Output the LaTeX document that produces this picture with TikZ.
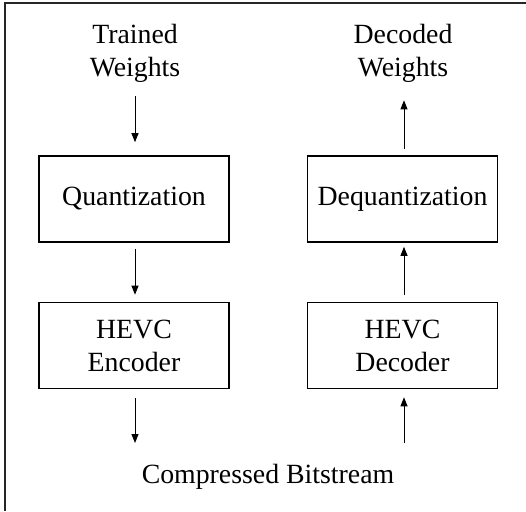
\documentclass[tikz,border=0pt]{standalone}
\usepackage{fontspec}
\setmainfont{Liberation Serif}
\usetikzlibrary{arrows.meta}
\begin{document}
\begin{tikzpicture}[x=1pt,y=-1pt,
  lbl/.style={font=\fontsize{27.8}{33}\selectfont, align=center, inner sep=0pt},
  blk/.style={draw=black, line width=1.6pt, minimum width=190pt, minimum height=86pt, inner sep=0pt, align=center, font=\fontsize{27.8}{33}\selectfont},
  arr/.style={-{Triangle[length=9pt,width=7pt]}, line width=0.9pt}]
\useasboundingbox (0,0) rectangle (526,511);
\draw[line width=2pt, color=black!85] (5,511) -- (5,3.5) -- (526,3.5);
\node[lbl] (tw) at (135,53) {Trained\\Weights};
\node[lbl] (dw) at (403,53) {Decoded\\Weights};
\node[blk] (q) at (134,199) {Quantization};
\node[blk] (dq) at (402.5,199) {Dequantization};
\node[blk] (enc) at (134,345.5) {HEVC\\Encoder};
\node[blk] (dec) at (402.5,345.5) {HEVC\\Decoder};
\node[lbl, anchor=base] (cb) at (268,483) {Compressed Bitstream};
\coordinate (l3e) at (135,443);
\coordinate (r3s) at (404,443);
\draw[arr, shorten <=14pt, shorten >=13pt] (tw.south -| 135,0) -- (q.north -| 135,0);
\draw[arr, shorten <=6pt, shorten >=7pt] (q.south -| 135,0) -- (enc.north -| 135,0);
\draw[arr, shorten <=9pt] (enc.south -| 135,0) -- (l3e);
\draw[arr, shorten <=6pt, shorten >=18pt] (dq.north -| 404,0) -- (dw.south -| 404,0);
\draw[arr, shorten <=7pt, shorten >=4pt] (dec.north -| 404,0) -- (dq.south -| 404,0);
\draw[arr, shorten >=8pt] (r3s) -- (dec.south -| 404,0);
\end{tikzpicture}
\end{document}
